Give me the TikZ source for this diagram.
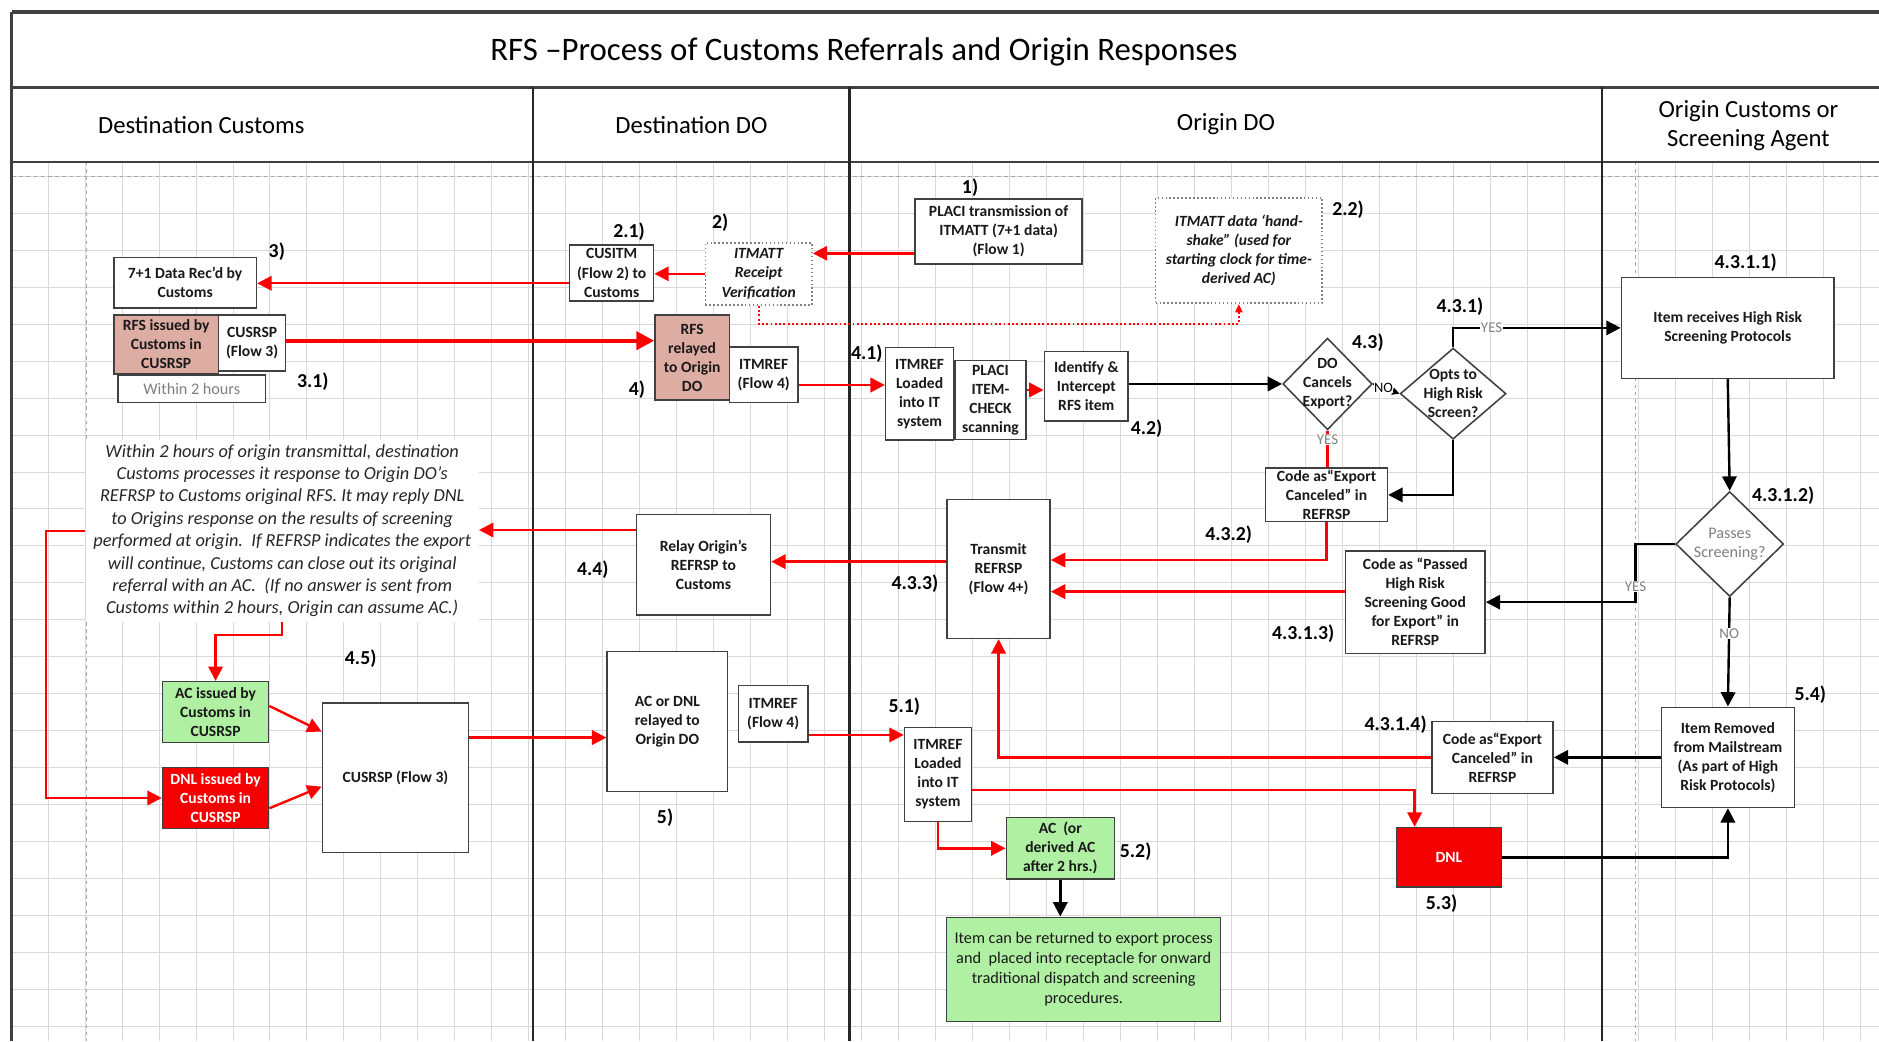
\documentclass[tikz,border=0pt]{standalone}
\usepackage{fontspec}
\setmainfont{Carlito}
\usepackage{xcolor}
\usetikzlibrary{shapes.geometric,arrows.meta,calc}
\definecolor{boxgray}{RGB}{64,64,64}
\definecolor{rfspink}{RGB}{221,172,162}
\definecolor{acgreen}{RGB}{176,240,162}
\definecolor{dnlred}{RGB}{245,0,0}
\definecolor{flowred}{RGB}{255,0,0}
\definecolor{gridgray}{RGB}{217,217,217}

\begin{document}
\begin{tikzpicture}[x=1pt, y=-1pt,
    box/.style={draw=boxgray, line width=1.3pt, fill=white, align=center, inner sep=0pt,
        font=\fontsize{13}{15.9}\selectfont\bfseries, text=black!90},
    sz/.style 2 args={minimum width=#1, minimum height=#2},
    dotbox/.style={box, draw=gray, dotted, line width=1.4pt,
        font=\fontsize{13}{15.9}\selectfont\bfseries\itshape},
    dia/.style={diamond, draw=boxgray, line width=1.3pt, fill=white, inner sep=0pt},
    dtxt/.style={align=center, inner sep=0pt, font=\fontsize{13}{15.9}\selectfont\bfseries, text=black!90},
    hdr/.style={align=center, font=\fontsize{20.6}{24}\selectfont},
    numlbl/.style={font=\fontsize{16.5}{18}\selectfont\bfseries, inner sep=0pt},
    yn/.style={font=\fontsize{12.5}{14}\selectfont, text=gray, fill=white, inner sep=0.5pt},
    gridln/.style={draw=gridgray, line width=0.8pt},
    redarr/.style={draw=flowred, line width=2pt, -{Triangle[length=12pt,width=12pt]}},
    blkarr/.style={draw=black, line width=2pt, -{Triangle[length=12pt,width=12pt]}},
]
    \useasboundingbox (0,0) rectangle (1568,869);

    % background grid
    \foreach \i in {0,...,50}
        \draw[gridln] ({9.2+30.87*\i},135) -- ({9.2+30.87*\i},869);
    \foreach \j in {0,...,23}
        \draw[gridln] (10,{146.9+30.87*\j}) -- (1568,{146.9+30.87*\j});
    \draw[gray!70, dashed, line width=1pt] (10,147) -- (1568,147);
    \draw[gray!70, dashed, line width=1pt] (72,135) -- (72,869);
    \draw[gray!70, dashed, line width=1pt] (1365,135) -- (1365,869);

    % frame and lanes
    \draw[boxgray, line width=3pt] (10,10) -- (1568,10);
    \draw[boxgray, line width=2.5pt] (10,73) -- (1568,73);
    \draw[boxgray, line width=2pt] (10,135) -- (1568,135);
    \draw[boxgray, line width=2.5pt] (10,10) -- (10,869);
    \foreach \lx in {445,709,1337}
        \draw[black!85, line width=2pt] (\lx,73) -- (\lx,869);

    \node[font=\fontsize{27.4}{30}\selectfont] (title) at (721,43) {RFS –Process of Customs Referrals and Origin Responses};
    \node[hdr] (hdrdc) at (168,104) {Destination Customs};
    \node[hdr] (hdrdd) at (577,104) {Destination DO};
    \node[hdr] (hdrod) at (1023,104) {Origin DO};
    \node[hdr] (hdroc) at (1459,105) {Origin Customs or\\Screening Agent};

    % Destination Customs
    \node[box, sz={119}{42}] (recd) at (154.5,236) {7+1 Data Rec’d by\\Customs};
    \node[box, fill=rfspink, sz={87.4}{49}] (rfsiss) at (138.7,287.5) {RFS issued by\\Customs in\\CUSRSP};
    \node[box, sz={56}{46.6}] (cusrspa) at (210.4,286.3) {CUSRSP\\(Flow 3)};
    \node[box, sz={123}{23}, font=\fontsize{13.5}{15}\selectfont, text=gray] (within) at (160,324.5) {Within 2 hours};
    \node[fill=white, sz={328}{152}, align=center, inner sep=0pt,
        font=\fontsize{15.3}{18.7}\selectfont\itshape, text=black!85] (note) at (235.5,442.9)
        {Within 2 hours of origin transmittal, destination\\
         Customs processes it response to Origin DO’s\\
         REFRSP to Customs original RFS. It may reply DNL\\
         to Origins response on the results of screening\\
         performed at origin.~~If REFRSP indicates the export\\
         will continue, Customs can close out its original\\
         referral with an AC.~~(If no answer is sent from\\
         Customs within 2 hours, Origin can assume AC.)};
    \node[box, fill=acgreen, sz={88.5}{50.9}] (aciss) at (179.9,594.3) {AC issued by\\Customs in\\CUSRSP};
    \node[box, fill=dnlred, text=white, sz={88.5}{50.6}] (dnliss) at (179.9,665.9) {DNL issued by\\Customs in\\CUSRSP};
    \node[box, sz={121.9}{125.1}] (cusrspb) at (330,649) {CUSRSP (Flow 3)};

    % Destination DO
    \node[box, sz={70}{46.8}] (cusitm) at (510.4,227.8) {CUSITM\\(Flow 2) to\\Customs};
    \node[dotbox, sz={89}{52}] (itmatt) at (633.1,228.5) {ITMATT\\Receipt\\Verification};
    \node[box, fill=rfspink, sz={62}{70.8}] (rfsrel) at (577.6,298.4) {RFS\\relayed\\to Origin\\DO};
    \node[box, sz={57.4}{46.7}] (itmrefa) at (637.3,312.7) {ITMREF\\(Flow 4)};
    \node[box, sz={111.8}{84}] (relay) at (587,471.2) {Relay Origin’s\\REFRSP to\\Customs};
    \node[box, sz={100.5}{116.8}] (acdnl) at (556.9,602.2) {AC or DNL\\relayed to\\Origin DO};
    \node[box, sz={57.8}{47.2}] (itmrefb) at (645.2,595.8) {ITMREF\\(Flow 4)};

    % Origin DO
    \node[box, sz={139.5}{54.3}] (placi) at (833.3,193.2) {PLACI transmission of\\ITMATT (7+1 data)\\(Flow 1)};
    \node[dotbox, sz={139}{88}] (hand) at (1033.8,209) {ITMATT data ‘hand-\\shake” (used for\\starting clock for time-\\derived AC)};
    \node[box, sz={56.7}{77.2}] (loada) at (767.4,328.6) {ITMREF\\Loaded\\into IT\\system};
    \node[box, sz={59}{65.6}] (itemchk) at (826.5,333.8) {PLACI\\ITEM-\\CHECK\\scanning};
    \node[box, sz={70}{57.8}] (ident) at (906.5,322.4) {Identify \&\\Intercept\\RFS item};
    \node[dia, sz={74.6}{76.5}] (cancel) at (1107.8,320.4) {};
    \node[dtxt] (canceltxt) at (cancel) {DO\\Cancels\\Export?};
    \node[dia, sz={88.3}{76}] (opts) at (1212.6,328.5) {};
    \node[dtxt] (optstxt) at (opts) {Opts to\\High Risk\\Screen?};
    \node[box, sz={101.6}{44.5}] (codea) at (1107,413) {Code as“Export\\Canceled” in\\REFRSP};
    \node[box, sz={86}{116}] (transmit) at (833.3,474.7) {Transmit\\REFRSP\\(Flow 4+)};
    \node[box, sz={116.5}{85.4}] (passed) at (1181,502.5) {Code as “Passed\\High Risk\\Screening Good\\for Export” in\\REFRSP};
    \node[box, sz={101.1}{60}] (codeb) at (1245.4,632) {Code as“Export\\Canceled” in\\REFRSP};
    \node[box, sz={55.8}{78.6}] (loadb) at (782.7,646.3) {ITMREF\\Loaded\\into IT\\system};
    \node[box, fill=acgreen, sz={90.1}{51.2}] (acderiv) at (884.8,707.9) {AC~~(or\\derived AC\\after 2 hrs.)};
    \node[box, fill=acgreen, sz={228.6}{87}, font=\fontsize{13.6}{16.7}\selectfont] (returned) at (904.3,809)
        {Item can be returned to export process\\and~~placed into receptacle for onward\\traditional dispatch and screening\\procedures.};
    \node[box, fill=dnlred, text=white, sz={87.8}{49.8}] (dnl) at (1209.1,715.5) {DNL};

    % Origin Customs or Screening Agent
    \node[box, sz={177.5}{84.3}] (hrisk) at (1441.8,273.6) {Item receives High Risk\\Screening Protocols};
    \node[dia, sz={90}{87.6}] (passes) at (1443.4,454) {};
    \node[dtxt, font=\fontsize{13.5}{16}\selectfont, text=gray] (passestxt) at (passes) {Passes\\Screening?};
    \node[box, sz={111}{83.5}] (removed) at (1441.9,632) {Item Removed\\from Mailstream\\(As part of High\\Risk Protocols)};

    % step numbers
    \node[numlbl] (n1) at (809.5,157) {1)};
    \node[numlbl] (n2) at (601,186) {2)};
    \node[numlbl] (n21) at (525,193.3) {2.1)};
    \node[numlbl] (n22) at (1125,175.2) {2.2)};
    \node[numlbl] (n3) at (231,210) {3)};
    \node[numlbl] (n31) at (261,318.5) {3.1)};
    \node[numlbl] (n4) at (531.5,325.4) {4)};
    \node[numlbl] (n41) at (723.3,294.8) {4.1)};
    \node[numlbl] (n42) at (956.8,357.4) {4.2)};
    \node[numlbl] (n43) at (1141.5,286) {4.3)};
    \node[numlbl] (n431) at (1218.3,256) {4.3.1)};
    \node[numlbl] (n4311) at (1456.8,219.2) {4.3.1.1)};
    \node[numlbl] (n4312) at (1488,414) {4.3.1.2)};
    \node[numlbl] (n432) at (1025.3,446.4) {4.3.2)};
    \node[numlbl] (n4313) at (1087.5,528.5) {4.3.1.3)};
    \node[numlbl] (n433) at (763.5,486.8) {4.3.3)};
    \node[numlbl] (n44) at (494.7,475.6) {4.4)};
    \node[numlbl] (n45) at (301,549.3) {4.5)};
    \node[numlbl] (n4314) at (1164.6,605) {4.3.1.4)};
    \node[numlbl] (n5) at (555,682) {5)};
    \node[numlbl] (n51) at (754.6,589.7) {5.1)};
    \node[numlbl] (n52) at (947.7,710.7) {5.2)};
    \node[numlbl] (n53) at (1202.9,753.8) {5.3)};
    \node[numlbl] (n54) at (1510.7,580) {5.4)};

    % Steps 1 - 3: ITMATT and RFS
    \draw[redarr] ([yshift=-18.2]placi.west) -- ([yshift=-18.2]placi.west -| itmatt.east);
    \draw[redarr] (itmatt.west) -- (itmatt.west -| cusitm.east);
    \draw[redarr] ([yshift=-8.6]cusitm.west) -- ([yshift=-8.6]cusitm.west -| recd.east);
    \draw[draw=flowred, dotted, line width=1.6pt, -{Triangle[length=7pt,width=6pt]}]
        (itmatt.south) -- ++(0,15.3) -| (hand.south);
    \draw[redarr, line width=3.5pt, -{Triangle[length=15pt,width=15pt]}]
        ([yshift=2]cusrspa.east) -- ([yshift=2]cusrspa.east -| rfsrel.west);

    % Step 4: ITMREF and interception
    \draw[redarr] ([yshift=-8.6]itmrefa.east) -- ([yshift=-8.6]itmrefa.east -| loada.west);
    \draw[redarr] ([yshift=8.4]itemchk.east) -- ([yshift=8.4]itemchk.east -| ident.west);
    \draw[blkarr] ([yshift=2]ident.east) -- (cancel.west);
    \draw[black, line width=1.3pt, -{Triangle[length=6pt,width=6pt]}] (cancel.east) --
        node[pos=0.4, font=\fontsize{12}{13}\selectfont, fill=white, inner sep=0.3pt] {NO} (opts.west);
    \draw[blkarr] (opts.north) |- node[yn, pos=0.615] {YES} (hrisk.west);
    \draw[draw=flowred, line width=2pt] (cancel.south) -- node[yn, pos=0.25] {YES} (cancel.south |- codea.north);
    \draw[blkarr] (opts.south) |- (codea.east);
    \draw[redarr] (codea.south) |- ([yshift=7.4]transmit.east);
    \draw[redarr] ([yshift=8.8]passed.west) -- ([yshift=8.8]passed.west -| transmit.east);
    \draw[blkarr] (hrisk.south) -- (passes.north);
    \draw[blkarr] (passes.west) -- ++(-33,0) |- node[yn, pos=0.365] {YES} (passed.east);
    \draw[blkarr] (passes.south) -- node[yn, pos=0.33] {NO} (removed.north);
    \draw[blkarr] (removed.west) -- (removed.west -| codeb.east);
    \draw[redarr] (codeb.west) -| (transmit.south);
    \draw[redarr] ([yshift=6]transmit.west) -- ([yshift=6]transmit.west -| relay.east);
    \draw[redarr] ([yshift=28.9]relay.west) -- ([yshift=28.9]relay.west -| note.east);

    % Step 4.5: Customs answer
    \draw[redarr] (note.west) -- ++(-32.8,0) |- (dnliss.west);
    \draw[redarr] (note.south) -- ++(0,11) -| (aciss.north);
    \draw[redarr] ([yshift=5.2]aciss.east) -- ([yshift=38.5]cusrspb.west);
    \draw[redarr] ([yshift=-8.6]dnliss.east) -- ([yshift=-7.4]cusrspb.west);
    \draw[redarr] ([yshift=33.5]cusrspb.east) -- ([yshift=33.5]cusrspb.east -| acdnl.west);

    % Step 5: AC or DNL at origin
    \draw[redarr] ([yshift=-17.5]itmrefb.east) -- ([yshift=-17.5]itmrefb.east -| loadb.west);
    \draw[redarr] (loadb.south) |- (acderiv.west);
    \draw[redarr] ([yshift=-12.9]loadb.east) -| ([xshift=-28.6]dnl.north);
    \draw[blkarr] (acderiv.south) -- (acderiv.south |- returned.north);
    \draw[blkarr] (dnl.east) -| (removed.south);
\end{tikzpicture}
\end{document}
